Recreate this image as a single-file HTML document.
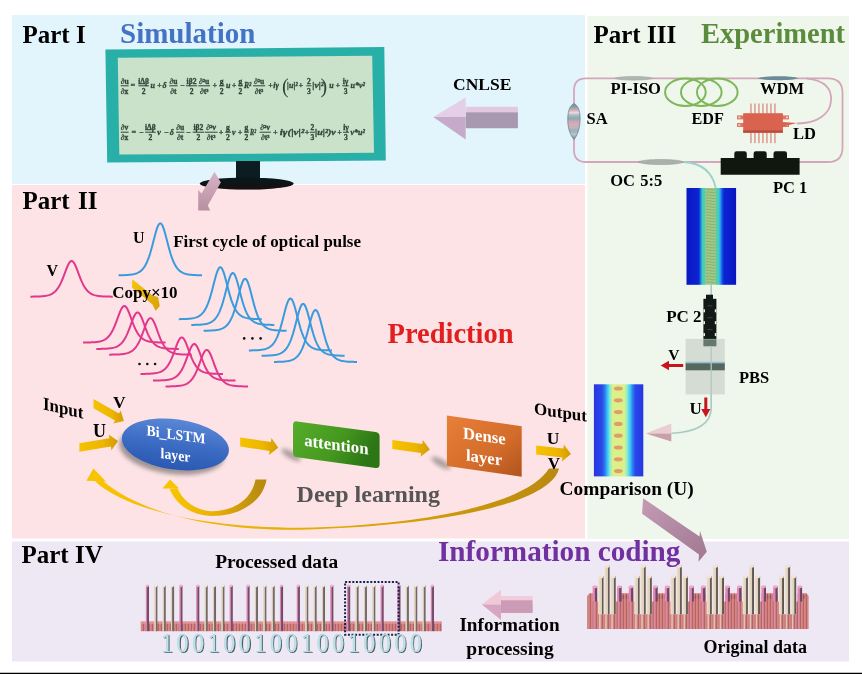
<!DOCTYPE html>
<html><head><meta charset="utf-8">
<style>
html,body{margin:0;padding:0;background:#fff;width:862px;height:674px;overflow:hidden}
svg{display:block;will-change:transform}
text{font-family:"Liberation Serif",serif;font-weight:bold}
</style></head>
<body>
<svg width="862" height="674" viewBox="0 0 862 674">
<defs>
<linearGradient id="gArrowL" x1="0" y1="0" x2="0" y2="1">
 <stop offset="0" stop-color="#E6CCE6"/><stop offset="0.5" stop-color="#E0C6E2"/><stop offset="0.5" stop-color="#C8ACCA"/><stop offset="1" stop-color="#BFA2C2"/>
</linearGradient>
<linearGradient id="gPinkDown" x1="0" y1="0" x2="0" y2="1">
 <stop offset="0" stop-color="#D8B4C8"/><stop offset="1" stop-color="#B8909F"/>
</linearGradient>
</defs>
<rect x="12" y="15" width="573" height="169" fill="#E3F5FC"/>
<rect x="12" y="185" width="573" height="353.5" fill="#FDE3E5"/>
<rect x="587.5" y="16" width="261.5" height="523" fill="#EFF6EC"/>
<rect x="12" y="541.5" width="837" height="120" fill="#EEE8F5"/>
<rect x="0" y="672.75" width="862" height="1.25" fill="#000"/>
<text x="22.5" y="43" font-size="25" fill="#000" >Part I</text>
<text x="120" y="43.3" font-size="29" fill="#4472C4" >Simulation</text>
<text x="22.5" y="208.7" font-size="25" fill="#000" word-spacing="2">Part II</text>
<text x="593.5" y="42.5" font-size="25" fill="#000" >Part III</text>
<text x="701" y="43" font-size="28.5" fill="#5B8C3E" >Experiment</text>
<text x="21.5" y="562.5" font-size="25" fill="#000" >Part IV</text>
<polygon points="105.4,49.5 384.3,47.1 385.8,160.5 107.2,162.6" fill="#28AFA8"/>
<polygon points="117.8,57.8 372.2,55.7 374,152.8 119.3,154.6" fill="#C9E2C9"/>
<rect x="236" y="161" width="24" height="21" fill="#0B1D20"/>
<ellipse cx="246.7" cy="183.6" rx="47" ry="6" fill="#0A171A"/>
<path d="M199.8,183.6 A47,6 0 0 0 293.7,183.6 Z" fill="#1A0C10" opacity="0.6"/>
<text x="124.65" y="83.89999999999999" font-size="7.6" fill="#33433A" stroke="#33433A" stroke-width="0.3" text-anchor="middle">&#8706;u</text>
<rect x="120.7" y="85.3" width="7.8999999999999915" height="1" fill="#33433A"/>
<text x="124.65" y="93.5" font-size="7.6" fill="#33433A" stroke="#33433A" stroke-width="0.3" text-anchor="middle">&#8706;x</text>
<text x="130.6" y="88.39999999999999" font-size="8" fill="#33433A" stroke="#33433A" stroke-width="0.3" text-anchor="start" font-style="italic">=</text>
<text x="143.65" y="83.89999999999999" font-size="7.6" fill="#33433A" stroke="#33433A" stroke-width="0.3" text-anchor="middle">i&#916;&#946;</text>
<rect x="138.4" y="85.3" width="10.5" height="1" fill="#33433A"/>
<text x="143.65" y="93.5" font-size="7.6" fill="#33433A" stroke="#33433A" stroke-width="0.3" text-anchor="middle">2</text>
<text x="150.4" y="88.39999999999999" font-size="8" fill="#33433A" stroke="#33433A" stroke-width="0.3" text-anchor="start" font-style="italic">u</text>
<text x="157" y="88.39999999999999" font-size="8" fill="#33433A" stroke="#33433A" stroke-width="0.3" text-anchor="start" font-style="italic">+</text>
<text x="162.5" y="88.39999999999999" font-size="8" fill="#33433A" stroke="#33433A" stroke-width="0.3" text-anchor="start" font-style="italic">&#948;</text>
<text x="173.45" y="83.89999999999999" font-size="7.6" fill="#33433A" stroke="#33433A" stroke-width="0.3" text-anchor="middle">&#8706;u</text>
<rect x="169.3" y="85.3" width="8.299999999999983" height="1" fill="#33433A"/>
<text x="173.45" y="93.5" font-size="7.6" fill="#33433A" stroke="#33433A" stroke-width="0.3" text-anchor="middle">&#8706;t</text>
<text x="179.8" y="88.39999999999999" font-size="8" fill="#33433A" stroke="#33433A" stroke-width="0.3" text-anchor="start" font-style="italic">&#8722;</text>
<text x="191.55" y="83.89999999999999" font-size="7.6" fill="#33433A" stroke="#33433A" stroke-width="0.3" text-anchor="middle">i&#946;2</text>
<rect x="185.9" y="85.3" width="11.299999999999983" height="1" fill="#33433A"/>
<text x="191.55" y="93.5" font-size="7.6" fill="#33433A" stroke="#33433A" stroke-width="0.3" text-anchor="middle">2</text>
<text x="204.2" y="83.89999999999999" font-size="7.6" fill="#33433A" stroke="#33433A" stroke-width="0.3" text-anchor="middle">&#8706;&#178;u</text>
<rect x="198.4" y="85.3" width="11.599999999999994" height="1" fill="#33433A"/>
<text x="204.2" y="93.5" font-size="7.6" fill="#33433A" stroke="#33433A" stroke-width="0.3" text-anchor="middle">&#8706;t&#179;</text>
<text x="212.5" y="88.39999999999999" font-size="8" fill="#33433A" stroke="#33433A" stroke-width="0.3" text-anchor="start" font-style="italic">+</text>
<text x="221.7" y="83.89999999999999" font-size="7.6" fill="#33433A" stroke="#33433A" stroke-width="0.3" text-anchor="middle">g</text>
<rect x="219" y="85.3" width="5.400000000000006" height="1" fill="#33433A"/>
<text x="221.7" y="93.5" font-size="7.6" fill="#33433A" stroke="#33433A" stroke-width="0.3" text-anchor="middle">2</text>
<text x="225.9" y="88.39999999999999" font-size="8" fill="#33433A" stroke="#33433A" stroke-width="0.3" text-anchor="start" font-style="italic">u</text>
<text x="231.8" y="88.39999999999999" font-size="8" fill="#33433A" stroke="#33433A" stroke-width="0.3" text-anchor="start" font-style="italic">+</text>
<text x="240.5" y="83.89999999999999" font-size="7.6" fill="#33433A" stroke="#33433A" stroke-width="0.3" text-anchor="middle">g</text>
<rect x="238" y="85.3" width="5" height="1" fill="#33433A"/>
<text x="240.5" y="93.5" font-size="7.6" fill="#33433A" stroke="#33433A" stroke-width="0.3" text-anchor="middle">2</text>
<text x="244" y="88.39999999999999" font-size="8" fill="#33433A" stroke="#33433A" stroke-width="0.3" text-anchor="start" font-style="italic" textLength="7.4" lengthAdjust="spacingAndGlyphs">R&#178;</text>
<text x="259.1" y="83.89999999999999" font-size="7.6" fill="#33433A" stroke="#33433A" stroke-width="0.3" text-anchor="middle">&#8706;&#178;u</text>
<rect x="253" y="85.3" width="12.199999999999989" height="1" fill="#33433A"/>
<text x="259.1" y="93.5" font-size="7.6" fill="#33433A" stroke="#33433A" stroke-width="0.3" text-anchor="middle">&#8706;t&#179;</text>
<text x="268.2" y="88.39999999999999" font-size="8" fill="#33433A" stroke="#33433A" stroke-width="0.3" text-anchor="start" font-style="italic">+</text>
<text x="273.3" y="88.39999999999999" font-size="8" fill="#33433A" stroke="#33433A" stroke-width="0.3" text-anchor="start" font-style="italic">i&#947;</text>
<text x="298.4" y="88.39999999999999" font-size="8" fill="#33433A" stroke="#33433A" stroke-width="0.3" text-anchor="start" font-style="italic">+</text>
<text x="308.9" y="83.89999999999999" font-size="7.6" fill="#33433A" stroke="#33433A" stroke-width="0.3" text-anchor="middle">2</text>
<rect x="306.3" y="85.3" width="5.199999999999989" height="1" fill="#33433A"/>
<text x="308.9" y="93.5" font-size="7.6" fill="#33433A" stroke="#33433A" stroke-width="0.3" text-anchor="middle">3</text>
<text x="312.3" y="88.39999999999999" font-size="8" fill="#33433A" stroke="#33433A" stroke-width="0.3" text-anchor="start" font-style="italic" textLength="11.3" lengthAdjust="spacingAndGlyphs">|v|&#178;</text>
<text x="329.3" y="88.39999999999999" font-size="8" fill="#33433A" stroke="#33433A" stroke-width="0.3" text-anchor="start" font-style="italic">u</text>
<text x="335.6" y="88.39999999999999" font-size="8" fill="#33433A" stroke="#33433A" stroke-width="0.3" text-anchor="start" font-style="italic">+</text>
<text x="345.55" y="83.89999999999999" font-size="7.6" fill="#33433A" stroke="#33433A" stroke-width="0.3" text-anchor="middle">i&#947;</text>
<rect x="342.3" y="85.3" width="6.5" height="1" fill="#33433A"/>
<text x="345.55" y="93.5" font-size="7.6" fill="#33433A" stroke="#33433A" stroke-width="0.3" text-anchor="middle">3</text>
<text x="350.4" y="88.39999999999999" font-size="8" fill="#33433A" stroke="#33433A" stroke-width="0.3" text-anchor="start" font-style="italic" textLength="14.6" lengthAdjust="spacingAndGlyphs">u*v&#178;</text>
<text x="282" y="93" font-size="20" font-weight="normal" fill="#33433A" style="font-weight:normal">(</text>
<text x="320.5" y="93" font-size="20" fill="#33433A" style="font-weight:normal">)</text>
<text x="287.1" y="88.39999999999999" font-size="8" fill="#33433A" stroke="#33433A" stroke-width="0.3" text-anchor="start" font-style="italic" textLength="10.6" lengthAdjust="spacingAndGlyphs">|u|&#178;</text>
<text x="124.65" y="130.29999999999998" font-size="7.6" fill="#33433A" stroke="#33433A" stroke-width="0.3" text-anchor="middle">&#8706;v</text>
<rect x="120.7" y="131.7" width="7.8999999999999915" height="1" fill="#33433A"/>
<text x="124.65" y="139.89999999999998" font-size="7.6" fill="#33433A" stroke="#33433A" stroke-width="0.3" text-anchor="middle">&#8706;x</text>
<text x="131.4" y="134.79999999999998" font-size="8" fill="#33433A" stroke="#33433A" stroke-width="0.3" text-anchor="start" font-style="italic">=</text>
<text x="138.8" y="134.79999999999998" font-size="8" fill="#33433A" stroke="#33433A" stroke-width="0.3" text-anchor="start" font-style="italic">&#8722;</text>
<text x="150.45" y="130.29999999999998" font-size="7.6" fill="#33433A" stroke="#33433A" stroke-width="0.3" text-anchor="middle">i&#916;&#946;</text>
<rect x="145.2" y="131.7" width="10.5" height="1" fill="#33433A"/>
<text x="150.45" y="139.89999999999998" font-size="7.6" fill="#33433A" stroke="#33433A" stroke-width="0.3" text-anchor="middle">2</text>
<text x="157.2" y="134.79999999999998" font-size="8" fill="#33433A" stroke="#33433A" stroke-width="0.3" text-anchor="start" font-style="italic">v</text>
<text x="163.8" y="134.79999999999998" font-size="8" fill="#33433A" stroke="#33433A" stroke-width="0.3" text-anchor="start" font-style="italic">&#8722;</text>
<text x="169.8" y="134.79999999999998" font-size="8" fill="#33433A" stroke="#33433A" stroke-width="0.3" text-anchor="start" font-style="italic">&#948;</text>
<text x="180.2" y="130.29999999999998" font-size="7.6" fill="#33433A" stroke="#33433A" stroke-width="0.3" text-anchor="middle">&#8706;u</text>
<rect x="176" y="131.7" width="8.400000000000006" height="1" fill="#33433A"/>
<text x="180.2" y="139.89999999999998" font-size="7.6" fill="#33433A" stroke="#33433A" stroke-width="0.3" text-anchor="middle">&#8706;t</text>
<text x="185.7" y="134.79999999999998" font-size="8" fill="#33433A" stroke="#33433A" stroke-width="0.3" text-anchor="start" font-style="italic">&#8722;</text>
<text x="198.35" y="130.29999999999998" font-size="7.6" fill="#33433A" stroke="#33433A" stroke-width="0.3" text-anchor="middle">i&#946;2</text>
<rect x="192.7" y="131.7" width="11.300000000000011" height="1" fill="#33433A"/>
<text x="198.35" y="139.89999999999998" font-size="7.6" fill="#33433A" stroke="#33433A" stroke-width="0.3" text-anchor="middle">2</text>
<text x="211.14999999999998" y="130.29999999999998" font-size="7.6" fill="#33433A" stroke="#33433A" stroke-width="0.3" text-anchor="middle">&#8706;&#178;v</text>
<rect x="204.7" y="131.7" width="12.900000000000006" height="1" fill="#33433A"/>
<text x="211.14999999999998" y="139.89999999999998" font-size="7.6" fill="#33433A" stroke="#33433A" stroke-width="0.3" text-anchor="middle">&#8706;t&#179;</text>
<text x="218.8" y="134.79999999999998" font-size="8" fill="#33433A" stroke="#33433A" stroke-width="0.3" text-anchor="start" font-style="italic">+</text>
<text x="228.0" y="130.29999999999998" font-size="7.6" fill="#33433A" stroke="#33433A" stroke-width="0.3" text-anchor="middle">g</text>
<rect x="225" y="131.7" width="6" height="1" fill="#33433A"/>
<text x="228.0" y="139.89999999999998" font-size="7.6" fill="#33433A" stroke="#33433A" stroke-width="0.3" text-anchor="middle">2</text>
<text x="232" y="134.79999999999998" font-size="8" fill="#33433A" stroke="#33433A" stroke-width="0.3" text-anchor="start" font-style="italic">v</text>
<text x="237.8" y="134.79999999999998" font-size="8" fill="#33433A" stroke="#33433A" stroke-width="0.3" text-anchor="start" font-style="italic">+</text>
<text x="246.5" y="130.29999999999998" font-size="7.6" fill="#33433A" stroke="#33433A" stroke-width="0.3" text-anchor="middle">g</text>
<rect x="244" y="131.7" width="5" height="1" fill="#33433A"/>
<text x="246.5" y="139.89999999999998" font-size="7.6" fill="#33433A" stroke="#33433A" stroke-width="0.3" text-anchor="middle">2</text>
<text x="250" y="134.79999999999998" font-size="8" fill="#33433A" stroke="#33433A" stroke-width="0.3" text-anchor="start" font-style="italic" textLength="6.0" lengthAdjust="spacingAndGlyphs">R&#178;</text>
<text x="265.2" y="130.29999999999998" font-size="7.6" fill="#33433A" stroke="#33433A" stroke-width="0.3" text-anchor="middle">&#8706;&#178;v</text>
<rect x="259.5" y="131.7" width="11.399999999999977" height="1" fill="#33433A"/>
<text x="265.2" y="139.89999999999998" font-size="7.6" fill="#33433A" stroke="#33433A" stroke-width="0.3" text-anchor="middle">&#8706;t&#179;</text>
<text x="273.1" y="134.79999999999998" font-size="8" fill="#33433A" stroke="#33433A" stroke-width="0.3" text-anchor="start" font-style="italic">+</text>
<text x="279.8" y="134.79999999999998" font-size="8" fill="#33433A" stroke="#33433A" stroke-width="0.3" text-anchor="start" font-style="italic" textLength="24.4" lengthAdjust="spacingAndGlyphs">i&#947;(|v|&#178;</text>
<text x="304.8" y="134.79999999999998" font-size="8" fill="#33433A" stroke="#33433A" stroke-width="0.3" text-anchor="start" font-style="italic">+</text>
<text x="312.4" y="130.29999999999998" font-size="7.6" fill="#33433A" stroke="#33433A" stroke-width="0.3" text-anchor="middle">2</text>
<rect x="309.8" y="131.7" width="5.199999999999989" height="1" fill="#33433A"/>
<text x="312.4" y="139.89999999999998" font-size="7.6" fill="#33433A" stroke="#33433A" stroke-width="0.3" text-anchor="middle">3</text>
<text x="315" y="134.79999999999998" font-size="8" fill="#33433A" stroke="#33433A" stroke-width="0.3" text-anchor="start" font-style="italic" textLength="20.8" lengthAdjust="spacingAndGlyphs">|u|&#178;)v</text>
<text x="337.3" y="134.79999999999998" font-size="8" fill="#33433A" stroke="#33433A" stroke-width="0.3" text-anchor="start" font-style="italic">+</text>
<text x="346.0" y="130.29999999999998" font-size="7.6" fill="#33433A" stroke="#33433A" stroke-width="0.3" text-anchor="middle">i&#947;</text>
<rect x="343" y="131.7" width="6" height="1" fill="#33433A"/>
<text x="346.0" y="139.89999999999998" font-size="7.6" fill="#33433A" stroke="#33433A" stroke-width="0.3" text-anchor="middle">3</text>
<text x="350.4" y="134.79999999999998" font-size="8" fill="#33433A" stroke="#33433A" stroke-width="0.3" text-anchor="start" font-style="italic" textLength="14.6" lengthAdjust="spacingAndGlyphs">v*u&#178;</text>
<polygon points="214.5,171.7 220.8,182.4 207.8,205.4 210.2,210.4 198.2,210.4 198.2,189.9 201.5,193.6" fill="url(#gPinkDown)"/>
<text x="453" y="89.7" font-size="17.5" fill="#000" >CNLSE</text>
<polygon points="465.7,106.7 517.9,106.7 517.9,112.2 465.7,112.2" fill="#E2C8E0"/>
<polygon points="465.7,112.2 517.9,112.2 517.9,128.2 465.7,128.2" fill="#A898B0"/>
<polygon points="433.2,117.1 465.7,97.6 465.7,117.1" fill="#E4CEE8"/>
<polygon points="433.2,117.1 465.7,117.1 465.7,139.4" fill="#C6AACA"/>
<path d="M586,78.3 L828,78.3 Q842.5,78.3 842.5,92.8 L842.5,147.5 Q842.5,162 828,162 L586,162 Q574,162 574,150 L574,90.3 Q574,78.3 586,78.3 Z" fill="none" stroke="#D4A6BC" stroke-width="1.8"/>
<path d="M806,78.3 C826,80 832,90 831,101 C830,114 818,123 797,123.5" fill="none" stroke="#D4A6BC" stroke-width="1.8"/>
<defs><linearGradient id="gSA" x1="0" y1="0" x2="0" y2="1">
<stop offset="0" stop-color="#6E8C98"/><stop offset="0.1" stop-color="#8AA0A8"/><stop offset="0.18" stop-color="#D4AAB6"/><stop offset="0.26" stop-color="#EADCE0"/><stop offset="0.32" stop-color="#A8BCC4"/>
<stop offset="0.42" stop-color="#90A8B2"/><stop offset="0.5" stop-color="#C8A8B4"/><stop offset="0.58" stop-color="#D8AAB8"/><stop offset="0.66" stop-color="#C0B4BC"/><stop offset="0.76" stop-color="#98B0BA"/><stop offset="0.86" stop-color="#B8C4CA"/><stop offset="1" stop-color="#6A8692"/>
</linearGradient></defs>
<path d="M574,103.5 C579,106 580.5,113 580,121 C579.5,130 577,136 574,139.5 C571,136 568,130 567.8,121 C567.6,113 569,106 574,103.5 Z" fill="url(#gSA)" stroke="#6E8490" stroke-width="0.8"/>
<path d="M614.7,78.3 C620,75.8 647,75.8 652.8,78.3 C647,80.8 620,80.8 614.7,78.3 Z" fill="#AEB6B0" stroke="#9AA49E" stroke-width="0.5"/>
<path d="M757.8,78.2 C763,75.6 793,75.6 798.2,78.2 C793,80.8 763,80.8 757.8,78.2 Z" fill="#6C8A98"/>
<path d="M638,162 C643,158.6 679,158.6 683.5,162 C679,165.4 643,165.4 638,162 Z" fill="#A8B2AA" stroke="#8E9A92" stroke-width="0.5"/>
<path d="M683.5,162 C700,163 712,170 715.7,188" fill="none" stroke="#9BD3C8" stroke-width="1.8"/>
<ellipse cx="685.4" cy="92.2" rx="20.3" ry="13.7" fill="none" stroke="#7DB757" stroke-width="2"/>
<ellipse cx="701.3" cy="92.2" rx="20.3" ry="13.7" fill="none" stroke="#7DB757" stroke-width="2"/>
<ellipse cx="717.3" cy="92.2" rx="20.3" ry="13.7" fill="none" stroke="#7DB757" stroke-width="2"/>
<rect x="750" y="103.5" width="25.5" height="40" fill="none"/>
<rect x="750.3" y="103.5" width="1.3" height="10" fill="#D98C7E"/>
<rect x="750.3" y="132.5" width="1.3" height="10.7" fill="#D98C7E"/>
<rect x="754.3" y="103.5" width="1.3" height="10" fill="#D98C7E"/>
<rect x="754.3" y="132.5" width="1.3" height="10.7" fill="#D98C7E"/>
<rect x="758.3" y="103.5" width="1.3" height="10" fill="#D98C7E"/>
<rect x="758.3" y="132.5" width="1.3" height="10.7" fill="#D98C7E"/>
<rect x="762.3" y="103.5" width="1.3" height="10" fill="#D98C7E"/>
<rect x="762.3" y="132.5" width="1.3" height="10.7" fill="#D98C7E"/>
<rect x="766.3" y="103.5" width="1.3" height="10" fill="#D98C7E"/>
<rect x="766.3" y="132.5" width="1.3" height="10.7" fill="#D98C7E"/>
<rect x="770.3" y="103.5" width="1.3" height="10" fill="#D98C7E"/>
<rect x="770.3" y="132.5" width="1.3" height="10.7" fill="#D98C7E"/>
<rect x="774.3" y="103.5" width="1.3" height="10" fill="#D98C7E"/>
<rect x="774.3" y="132.5" width="1.3" height="10.7" fill="#D98C7E"/>
<rect x="737" y="115.4" width="7" height="4" fill="#DC7868"/><rect x="738.3" y="116.60000000000001" width="2" height="1.6" fill="#F2D8D0"/>
<rect x="782" y="115.4" width="7" height="4" fill="#DC7868"/><rect x="786" y="116.60000000000001" width="2" height="1.6" fill="#F2D8D0"/>
<rect x="737" y="123" width="7" height="4" fill="#DC7868"/><rect x="738.3" y="124.2" width="2" height="1.6" fill="#F2D8D0"/>
<rect x="782" y="123" width="7" height="4" fill="#DC7868"/><rect x="786" y="124.2" width="2" height="1.6" fill="#F2D8D0"/>
<rect x="743.2" y="113.2" width="39.7" height="19.5" fill="#D9634F"/>
<rect x="743.2" y="130.5" width="39.7" height="2.2" fill="#B84A3C"/>
<path d="M782.9,122 L797,123 L782.9,126.5 Z" fill="#D9634F"/>
<path d="M720.7,158 L734.3,158 L734.3,153.6 Q734.3,151.3 736.6,151.3 L744.5,151.3 Q746.8,151.3 746.8,153.6 L746.8,158 L753.6,158 L753.6,153.6 Q753.6,151.3 755.9,151.3 L764.4,151.3 Q766.7,151.3 766.7,153.6 L766.7,158 L773.5,158 L773.5,153.6 Q773.5,151.3 775.8,151.3 L784.7,151.3 Q787,151.3 787,153.6 L787,158 L799.6,158 L799.6,174.7 L720.7,174.7 Z" fill="#0F170F"/>
<text x="610.5" y="94" font-size="16.5" fill="#000" >PI-ISO</text>
<text x="586.5" y="124" font-size="16.5" fill="#000" >SA</text>
<text x="691.5" y="123.6" font-size="16.2" fill="#000" >EDF</text>
<text x="760" y="93.7" font-size="16.5" fill="#000" >WDM</text>
<text x="793" y="139.2" font-size="16.5" fill="#000" >LD</text>
<text x="610.2" y="186.2" font-size="16.5" fill="#000" word-spacing="1.3">OC 5:5</text>
<text x="773" y="193" font-size="16.5" fill="#000" >PC 1</text>
<polyline points="118.60,275.24 119.53,275.23 120.45,275.22 121.38,275.20 122.31,275.18 123.23,275.16 124.16,275.13 125.09,275.09 126.01,275.05 126.94,275.00 127.87,274.94 128.79,274.87 129.72,274.78 130.65,274.68 131.57,274.56 132.50,274.41 133.43,274.24 134.35,274.03 135.28,273.78 136.21,273.49 137.13,273.13 138.06,272.71 138.99,272.21 139.91,271.62 140.84,270.91 141.77,270.09 142.69,269.11 143.62,267.97 144.55,266.63 145.47,265.08 146.40,263.30 147.33,261.25 148.25,258.93 149.18,256.33 150.11,253.44 151.03,250.29 151.96,246.91 152.89,243.36 153.81,239.73 154.74,236.14 155.67,232.71 156.59,229.60 157.52,226.98 158.45,224.98 159.37,223.73 160.30,223.30 161.23,223.73 162.15,224.98 163.08,226.98 164.01,229.60 164.93,232.71 165.86,236.14 166.79,239.73 167.71,243.36 168.64,246.91 169.57,250.29 170.49,253.44 171.42,256.33 172.35,258.93 173.27,261.25 174.20,263.30 175.13,265.08 176.05,266.63 176.98,267.97 177.91,269.11 178.83,270.09 179.76,270.91 180.69,271.62 181.61,272.21 182.54,272.71 183.47,273.13 184.39,273.49 185.32,273.78 186.25,274.03 187.17,274.24 188.10,274.41 189.03,274.56 189.95,274.68 190.88,274.78 191.81,274.87 192.73,274.94 193.66,275.00 194.59,275.05 195.51,275.09 196.44,275.13 197.37,275.16 198.29,275.18 199.22,275.20 200.15,275.22 201.07,275.23 202.00,275.24" fill="none" stroke="#3A9BDC" stroke-width="2.0" stroke-linejoin="round"/>
<polyline points="30.40,296.66 31.32,296.65 32.23,296.64 33.15,296.62 34.06,296.61 34.98,296.59 35.89,296.57 36.81,296.54 37.72,296.51 38.64,296.48 39.56,296.43 40.47,296.38 41.39,296.32 42.30,296.25 43.22,296.16 44.13,296.05 45.05,295.93 45.96,295.78 46.88,295.60 47.80,295.38 48.71,295.13 49.63,294.83 50.54,294.47 51.46,294.05 52.37,293.55 53.29,292.97 54.20,292.28 55.12,291.48 56.04,290.55 56.95,289.46 57.87,288.22 58.78,286.80 59.70,285.20 60.61,283.40 61.53,281.42 62.44,279.26 63.36,276.95 64.28,274.53 65.19,272.07 66.11,269.64 67.02,267.32 67.94,265.23 68.85,263.47 69.77,262.13 70.68,261.29 71.60,261.00 72.52,261.29 73.43,262.13 74.35,263.47 75.26,265.23 76.18,267.32 77.09,269.64 78.01,272.07 78.92,274.53 79.84,276.95 80.76,279.26 81.67,281.42 82.59,283.40 83.50,285.20 84.42,286.80 85.33,288.22 86.25,289.46 87.16,290.55 88.08,291.48 89.00,292.28 89.91,292.97 90.83,293.55 91.74,294.05 92.66,294.47 93.57,294.83 94.49,295.13 95.40,295.38 96.32,295.60 97.24,295.78 98.15,295.93 99.07,296.05 99.98,296.16 100.90,296.25 101.81,296.32 102.73,296.38 103.64,296.43 104.56,296.48 105.48,296.51 106.39,296.54 107.31,296.57 108.22,296.59 109.14,296.61 110.05,296.62 110.97,296.64 111.88,296.65 112.80,296.66" fill="none" stroke="#E2388C" stroke-width="2.0" stroke-linejoin="round"/>
<polyline points="83.10,342.56 84.02,342.55 84.93,342.54 85.85,342.52 86.77,342.51 87.68,342.49 88.60,342.47 89.52,342.44 90.43,342.41 91.35,342.37 92.27,342.33 93.18,342.28 94.10,342.21 95.02,342.14 95.93,342.05 96.85,341.94 97.77,341.81 98.68,341.66 99.60,341.47 100.52,341.26 101.43,341.00 102.35,340.69 103.27,340.33 104.18,339.90 105.10,339.39 106.02,338.79 106.93,338.09 107.85,337.27 108.77,336.31 109.68,335.20 110.60,333.93 111.52,332.48 112.43,330.83 113.35,328.99 114.27,326.96 115.18,324.75 116.10,322.38 117.02,319.90 117.93,317.37 118.85,314.87 119.77,312.50 120.68,310.35 121.60,308.54 122.52,307.16 123.43,306.29 124.35,306.00 125.27,306.29 126.18,307.16 127.10,308.54 128.02,310.35 128.93,312.50 129.85,314.87 130.77,317.37 131.68,319.90 132.60,322.38 133.52,324.75 134.43,326.96 135.35,328.99 136.27,330.83 137.18,332.48 138.10,333.93 139.02,335.20 139.93,336.31 140.85,337.27 141.77,338.09 142.68,338.79 143.60,339.39 144.52,339.90 145.43,340.33 146.35,340.69 147.27,341.00 148.18,341.26 149.10,341.47 150.02,341.66 150.93,341.81 151.85,341.94 152.77,342.05 153.68,342.14 154.60,342.21 155.52,342.28 156.43,342.33 157.35,342.37 158.27,342.41 159.18,342.44 160.10,342.47 161.02,342.49 161.93,342.51 162.85,342.52 163.77,342.54 164.68,342.55 165.60,342.56" fill="none" stroke="#E2388C" stroke-width="2.0" stroke-linejoin="round"/>
<polyline points="96.30,348.96 97.22,348.95 98.13,348.94 99.05,348.92 99.97,348.91 100.88,348.89 101.80,348.87 102.72,348.84 103.63,348.81 104.55,348.77 105.47,348.73 106.38,348.68 107.30,348.61 108.22,348.54 109.13,348.45 110.05,348.34 110.97,348.21 111.88,348.06 112.80,347.87 113.72,347.66 114.63,347.40 115.55,347.09 116.47,346.73 117.38,346.30 118.30,345.79 119.22,345.19 120.13,344.49 121.05,343.67 121.97,342.71 122.88,341.60 123.80,340.33 124.72,338.88 125.63,337.23 126.55,335.39 127.47,333.36 128.38,331.15 129.30,328.78 130.22,326.30 131.13,323.77 132.05,321.27 132.97,318.90 133.88,316.75 134.80,314.94 135.72,313.56 136.63,312.69 137.55,312.40 138.47,312.69 139.38,313.56 140.30,314.94 141.22,316.75 142.13,318.90 143.05,321.27 143.97,323.77 144.88,326.30 145.80,328.78 146.72,331.15 147.63,333.36 148.55,335.39 149.47,337.23 150.38,338.88 151.30,340.33 152.22,341.60 153.13,342.71 154.05,343.67 154.97,344.49 155.88,345.19 156.80,345.79 157.72,346.30 158.63,346.73 159.55,347.09 160.47,347.40 161.38,347.66 162.30,347.87 163.22,348.06 164.13,348.21 165.05,348.34 165.97,348.45 166.88,348.54 167.80,348.61 168.72,348.68 169.63,348.73 170.55,348.77 171.47,348.81 172.38,348.84 173.30,348.87 174.22,348.89 175.13,348.91 176.05,348.92 176.97,348.94 177.88,348.95 178.80,348.96" fill="none" stroke="#E2388C" stroke-width="2.0" stroke-linejoin="round"/>
<polyline points="109.20,354.66 110.12,354.65 111.03,354.64 111.95,354.62 112.87,354.61 113.78,354.59 114.70,354.57 115.62,354.54 116.53,354.51 117.45,354.47 118.37,354.43 119.28,354.38 120.20,354.31 121.12,354.24 122.03,354.15 122.95,354.04 123.87,353.91 124.78,353.76 125.70,353.57 126.62,353.36 127.53,353.10 128.45,352.79 129.37,352.43 130.28,352.00 131.20,351.49 132.12,350.89 133.03,350.19 133.95,349.37 134.87,348.41 135.78,347.30 136.70,346.03 137.62,344.58 138.53,342.93 139.45,341.09 140.37,339.06 141.28,336.85 142.20,334.48 143.12,332.00 144.03,329.47 144.95,326.97 145.87,324.60 146.78,322.45 147.70,320.64 148.62,319.26 149.53,318.39 150.45,318.10 151.37,318.39 152.28,319.26 153.20,320.64 154.12,322.45 155.03,324.60 155.95,326.97 156.87,329.47 157.78,332.00 158.70,334.48 159.62,336.85 160.53,339.06 161.45,341.09 162.37,342.93 163.28,344.58 164.20,346.03 165.12,347.30 166.03,348.41 166.95,349.37 167.87,350.19 168.78,350.89 169.70,351.49 170.62,352.00 171.53,352.43 172.45,352.79 173.37,353.10 174.28,353.36 175.20,353.57 176.12,353.76 177.03,353.91 177.95,354.04 178.87,354.15 179.78,354.24 180.70,354.31 181.62,354.38 182.53,354.43 183.45,354.47 184.37,354.51 185.28,354.54 186.20,354.57 187.12,354.59 188.03,354.61 188.95,354.62 189.87,354.64 190.78,354.65 191.70,354.66" fill="none" stroke="#E2388C" stroke-width="2.0" stroke-linejoin="round"/>
<polyline points="140.50,373.96 141.42,373.95 142.33,373.94 143.25,373.92 144.17,373.91 145.08,373.89 146.00,373.87 146.92,373.84 147.83,373.81 148.75,373.77 149.67,373.73 150.58,373.68 151.50,373.61 152.42,373.54 153.33,373.45 154.25,373.34 155.17,373.21 156.08,373.06 157.00,372.87 157.92,372.66 158.83,372.40 159.75,372.09 160.67,371.73 161.58,371.30 162.50,370.79 163.42,370.19 164.33,369.49 165.25,368.67 166.17,367.71 167.08,366.60 168.00,365.33 168.92,363.88 169.83,362.23 170.75,360.39 171.67,358.36 172.58,356.15 173.50,353.78 174.42,351.30 175.33,348.77 176.25,346.27 177.17,343.90 178.08,341.75 179.00,339.94 179.92,338.56 180.83,337.69 181.75,337.40 182.67,337.69 183.58,338.56 184.50,339.94 185.42,341.75 186.33,343.90 187.25,346.27 188.17,348.77 189.08,351.30 190.00,353.78 190.92,356.15 191.83,358.36 192.75,360.39 193.67,362.23 194.58,363.88 195.50,365.33 196.42,366.60 197.33,367.71 198.25,368.67 199.17,369.49 200.08,370.19 201.00,370.79 201.92,371.30 202.83,371.73 203.75,372.09 204.67,372.40 205.58,372.66 206.50,372.87 207.42,373.06 208.33,373.21 209.25,373.34 210.17,373.45 211.08,373.54 212.00,373.61 212.92,373.68 213.83,373.73 214.75,373.77 215.67,373.81 216.58,373.84 217.50,373.87 218.42,373.89 219.33,373.91 220.25,373.92 221.17,373.94 222.08,373.95 223.00,373.96" fill="none" stroke="#E2388C" stroke-width="2.0" stroke-linejoin="round"/>
<polyline points="153.00,380.56 153.92,380.55 154.83,380.54 155.75,380.52 156.67,380.51 157.58,380.49 158.50,380.47 159.42,380.44 160.33,380.41 161.25,380.37 162.17,380.33 163.08,380.28 164.00,380.21 164.92,380.14 165.83,380.05 166.75,379.94 167.67,379.81 168.58,379.66 169.50,379.47 170.42,379.26 171.33,379.00 172.25,378.69 173.17,378.33 174.08,377.90 175.00,377.39 175.92,376.79 176.83,376.09 177.75,375.27 178.67,374.31 179.58,373.20 180.50,371.93 181.42,370.48 182.33,368.83 183.25,366.99 184.17,364.96 185.08,362.75 186.00,360.38 186.92,357.90 187.83,355.37 188.75,352.87 189.67,350.50 190.58,348.35 191.50,346.54 192.42,345.16 193.33,344.29 194.25,344.00 195.17,344.29 196.08,345.16 197.00,346.54 197.92,348.35 198.83,350.50 199.75,352.87 200.67,355.37 201.58,357.90 202.50,360.38 203.42,362.75 204.33,364.96 205.25,366.99 206.17,368.83 207.08,370.48 208.00,371.93 208.92,373.20 209.83,374.31 210.75,375.27 211.67,376.09 212.58,376.79 213.50,377.39 214.42,377.90 215.33,378.33 216.25,378.69 217.17,379.00 218.08,379.26 219.00,379.47 219.92,379.66 220.83,379.81 221.75,379.94 222.67,380.05 223.58,380.14 224.50,380.21 225.42,380.28 226.33,380.33 227.25,380.37 228.17,380.41 229.08,380.44 230.00,380.47 230.92,380.49 231.83,380.51 232.75,380.52 233.67,380.54 234.58,380.55 235.50,380.56" fill="none" stroke="#E2388C" stroke-width="2.0" stroke-linejoin="round"/>
<polyline points="165.50,386.46 166.42,386.45 167.33,386.44 168.25,386.42 169.17,386.41 170.08,386.39 171.00,386.37 171.92,386.34 172.83,386.31 173.75,386.27 174.67,386.23 175.58,386.18 176.50,386.11 177.42,386.04 178.33,385.95 179.25,385.84 180.17,385.71 181.08,385.56 182.00,385.37 182.92,385.16 183.83,384.90 184.75,384.59 185.67,384.23 186.58,383.80 187.50,383.29 188.42,382.69 189.33,381.99 190.25,381.17 191.17,380.21 192.08,379.10 193.00,377.83 193.92,376.38 194.83,374.73 195.75,372.89 196.67,370.86 197.58,368.65 198.50,366.28 199.42,363.80 200.33,361.27 201.25,358.77 202.17,356.40 203.08,354.25 204.00,352.44 204.92,351.06 205.83,350.19 206.75,349.90 207.67,350.19 208.58,351.06 209.50,352.44 210.42,354.25 211.33,356.40 212.25,358.77 213.17,361.27 214.08,363.80 215.00,366.28 215.92,368.65 216.83,370.86 217.75,372.89 218.67,374.73 219.58,376.38 220.50,377.83 221.42,379.10 222.33,380.21 223.25,381.17 224.17,381.99 225.08,382.69 226.00,383.29 226.92,383.80 227.83,384.23 228.75,384.59 229.67,384.90 230.58,385.16 231.50,385.37 232.42,385.56 233.33,385.71 234.25,385.84 235.17,385.95 236.08,386.04 237.00,386.11 237.92,386.18 238.83,386.23 239.75,386.27 240.67,386.31 241.58,386.34 242.50,386.37 243.42,386.39 244.33,386.41 245.25,386.42 246.17,386.44 247.08,386.45 248.00,386.46" fill="none" stroke="#E2388C" stroke-width="2.0" stroke-linejoin="round"/>
<polyline points="178.80,319.14 179.72,319.13 180.64,319.11 181.57,319.10 182.49,319.07 183.41,319.05 184.33,319.02 185.26,318.98 186.18,318.94 187.10,318.89 188.02,318.83 188.94,318.76 189.87,318.67 190.79,318.57 191.71,318.44 192.63,318.29 193.56,318.11 194.48,317.90 195.40,317.65 196.32,317.34 197.24,316.99 198.17,316.56 199.09,316.05 200.01,315.45 200.93,314.74 201.86,313.90 202.78,312.91 203.70,311.76 204.62,310.41 205.54,308.86 206.47,307.06 207.39,305.00 208.31,302.68 209.23,300.07 210.16,297.18 211.08,294.03 212.00,290.66 212.92,287.12 213.84,283.51 214.77,279.93 215.69,276.53 216.61,273.45 217.53,270.85 218.46,268.86 219.38,267.62 220.30,267.20 221.22,267.62 222.14,268.86 223.07,270.85 223.99,273.45 224.91,276.53 225.83,279.93 226.76,283.51 227.68,287.12 228.60,290.66 229.52,294.03 230.44,297.18 231.37,300.07 232.29,302.68 233.21,305.00 234.13,307.06 235.06,308.86 235.98,310.41 236.90,311.76 237.82,312.91 238.74,313.90 239.67,314.74 240.59,315.45 241.51,316.05 242.43,316.56 243.36,316.99 244.28,317.34 245.20,317.65 246.12,317.90 247.04,318.11 247.97,318.29 248.89,318.44 249.81,318.57 250.73,318.67 251.66,318.76 252.58,318.83 253.50,318.89 254.42,318.94 255.34,318.98 256.27,319.02 257.19,319.05 258.11,319.07 259.03,319.10 259.96,319.11 260.88,319.13 261.80,319.14" fill="none" stroke="#3A9BDC" stroke-width="2.0" stroke-linejoin="round"/>
<polyline points="191.30,324.94 192.22,324.93 193.14,324.91 194.07,324.90 194.99,324.87 195.91,324.85 196.83,324.82 197.76,324.78 198.68,324.74 199.60,324.69 200.52,324.63 201.44,324.56 202.37,324.47 203.29,324.37 204.21,324.24 205.13,324.09 206.06,323.91 206.98,323.70 207.90,323.45 208.82,323.14 209.74,322.79 210.67,322.36 211.59,321.85 212.51,321.25 213.43,320.54 214.36,319.70 215.28,318.71 216.20,317.56 217.12,316.21 218.04,314.66 218.97,312.86 219.89,310.80 220.81,308.48 221.73,305.87 222.66,302.98 223.58,299.83 224.50,296.46 225.42,292.92 226.34,289.31 227.27,285.73 228.19,282.33 229.11,279.25 230.03,276.65 230.96,274.66 231.88,273.42 232.80,273.00 233.72,273.42 234.64,274.66 235.57,276.65 236.49,279.25 237.41,282.33 238.33,285.73 239.26,289.31 240.18,292.92 241.10,296.46 242.02,299.83 242.94,302.98 243.87,305.87 244.79,308.48 245.71,310.80 246.63,312.86 247.56,314.66 248.48,316.21 249.40,317.56 250.32,318.71 251.24,319.70 252.17,320.54 253.09,321.25 254.01,321.85 254.93,322.36 255.86,322.79 256.78,323.14 257.70,323.45 258.62,323.70 259.54,323.91 260.47,324.09 261.39,324.24 262.31,324.37 263.23,324.47 264.16,324.56 265.08,324.63 266.00,324.69 266.92,324.74 267.84,324.78 268.77,324.82 269.69,324.85 270.61,324.87 271.53,324.90 272.46,324.91 273.38,324.93 274.30,324.94" fill="none" stroke="#3A9BDC" stroke-width="2.0" stroke-linejoin="round"/>
<polyline points="203.60,330.74 204.52,330.73 205.44,330.71 206.37,330.70 207.29,330.67 208.21,330.65 209.13,330.62 210.06,330.58 210.98,330.54 211.90,330.49 212.82,330.43 213.74,330.36 214.67,330.27 215.59,330.17 216.51,330.04 217.43,329.89 218.36,329.71 219.28,329.50 220.20,329.25 221.12,328.94 222.04,328.59 222.97,328.16 223.89,327.65 224.81,327.05 225.73,326.34 226.66,325.50 227.58,324.51 228.50,323.36 229.42,322.01 230.34,320.46 231.27,318.66 232.19,316.60 233.11,314.28 234.03,311.67 234.96,308.78 235.88,305.63 236.80,302.26 237.72,298.72 238.64,295.11 239.57,291.53 240.49,288.13 241.41,285.05 242.33,282.45 243.26,280.46 244.18,279.22 245.10,278.80 246.02,279.22 246.94,280.46 247.87,282.45 248.79,285.05 249.71,288.13 250.63,291.53 251.56,295.11 252.48,298.72 253.40,302.26 254.32,305.63 255.24,308.78 256.17,311.67 257.09,314.28 258.01,316.60 258.93,318.66 259.86,320.46 260.78,322.01 261.70,323.36 262.62,324.51 263.54,325.50 264.47,326.34 265.39,327.05 266.31,327.65 267.23,328.16 268.16,328.59 269.08,328.94 270.00,329.25 270.92,329.50 271.84,329.71 272.77,329.89 273.69,330.04 274.61,330.17 275.53,330.27 276.46,330.36 277.38,330.43 278.30,330.49 279.22,330.54 280.14,330.58 281.07,330.62 281.99,330.65 282.91,330.67 283.83,330.70 284.76,330.71 285.68,330.73 286.60,330.74" fill="none" stroke="#3A9BDC" stroke-width="2.0" stroke-linejoin="round"/>
<polyline points="248.90,350.44 249.82,350.43 250.74,350.41 251.67,350.40 252.59,350.37 253.51,350.35 254.43,350.32 255.36,350.28 256.28,350.24 257.20,350.19 258.12,350.13 259.04,350.06 259.97,349.97 260.89,349.87 261.81,349.74 262.73,349.59 263.66,349.41 264.58,349.20 265.50,348.95 266.42,348.64 267.34,348.29 268.27,347.86 269.19,347.35 270.11,346.75 271.03,346.04 271.96,345.20 272.88,344.21 273.80,343.06 274.72,341.71 275.64,340.16 276.57,338.36 277.49,336.30 278.41,333.98 279.33,331.37 280.26,328.48 281.18,325.33 282.10,321.96 283.02,318.42 283.94,314.81 284.87,311.23 285.79,307.83 286.71,304.75 287.63,302.15 288.56,300.16 289.48,298.92 290.40,298.50 291.32,298.92 292.24,300.16 293.17,302.15 294.09,304.75 295.01,307.83 295.93,311.23 296.86,314.81 297.78,318.42 298.70,321.96 299.62,325.33 300.54,328.48 301.47,331.37 302.39,333.98 303.31,336.30 304.23,338.36 305.16,340.16 306.08,341.71 307.00,343.06 307.92,344.21 308.84,345.20 309.77,346.04 310.69,346.75 311.61,347.35 312.53,347.86 313.46,348.29 314.38,348.64 315.30,348.95 316.22,349.20 317.14,349.41 318.07,349.59 318.99,349.74 319.91,349.87 320.83,349.97 321.76,350.06 322.68,350.13 323.60,350.19 324.52,350.24 325.44,350.28 326.37,350.32 327.29,350.35 328.21,350.37 329.13,350.40 330.06,350.41 330.98,350.43 331.90,350.44" fill="none" stroke="#3A9BDC" stroke-width="2.0" stroke-linejoin="round"/>
<polyline points="261.60,355.74 262.52,355.73 263.44,355.71 264.37,355.70 265.29,355.67 266.21,355.65 267.13,355.62 268.06,355.58 268.98,355.54 269.90,355.49 270.82,355.43 271.74,355.36 272.67,355.27 273.59,355.17 274.51,355.04 275.43,354.89 276.36,354.71 277.28,354.50 278.20,354.25 279.12,353.94 280.04,353.59 280.97,353.16 281.89,352.65 282.81,352.05 283.73,351.34 284.66,350.50 285.58,349.51 286.50,348.36 287.42,347.01 288.34,345.46 289.27,343.66 290.19,341.60 291.11,339.28 292.03,336.67 292.96,333.78 293.88,330.63 294.80,327.26 295.72,323.72 296.64,320.11 297.57,316.53 298.49,313.13 299.41,310.05 300.33,307.45 301.26,305.46 302.18,304.22 303.10,303.80 304.02,304.22 304.94,305.46 305.87,307.45 306.79,310.05 307.71,313.13 308.63,316.53 309.56,320.11 310.48,323.72 311.40,327.26 312.32,330.63 313.24,333.78 314.17,336.67 315.09,339.28 316.01,341.60 316.93,343.66 317.86,345.46 318.78,347.01 319.70,348.36 320.62,349.51 321.54,350.50 322.47,351.34 323.39,352.05 324.31,352.65 325.23,353.16 326.16,353.59 327.08,353.94 328.00,354.25 328.92,354.50 329.84,354.71 330.77,354.89 331.69,355.04 332.61,355.17 333.53,355.27 334.46,355.36 335.38,355.43 336.30,355.49 337.22,355.54 338.14,355.58 339.07,355.62 339.99,355.65 340.91,355.67 341.83,355.70 342.76,355.71 343.68,355.73 344.60,355.74" fill="none" stroke="#3A9BDC" stroke-width="2.0" stroke-linejoin="round"/>
<polyline points="274.00,361.94 274.92,361.93 275.84,361.91 276.77,361.90 277.69,361.87 278.61,361.85 279.53,361.82 280.46,361.78 281.38,361.74 282.30,361.69 283.22,361.63 284.14,361.56 285.07,361.47 285.99,361.37 286.91,361.24 287.83,361.09 288.76,360.91 289.68,360.70 290.60,360.45 291.52,360.14 292.44,359.79 293.37,359.36 294.29,358.85 295.21,358.25 296.13,357.54 297.06,356.70 297.98,355.71 298.90,354.56 299.82,353.21 300.74,351.66 301.67,349.86 302.59,347.80 303.51,345.48 304.43,342.87 305.36,339.98 306.28,336.83 307.20,333.46 308.12,329.92 309.04,326.31 309.97,322.73 310.89,319.33 311.81,316.25 312.73,313.65 313.66,311.66 314.58,310.42 315.50,310.00 316.42,310.42 317.34,311.66 318.27,313.65 319.19,316.25 320.11,319.33 321.03,322.73 321.96,326.31 322.88,329.92 323.80,333.46 324.72,336.83 325.64,339.98 326.57,342.87 327.49,345.48 328.41,347.80 329.33,349.86 330.26,351.66 331.18,353.21 332.10,354.56 333.02,355.71 333.94,356.70 334.87,357.54 335.79,358.25 336.71,358.85 337.63,359.36 338.56,359.79 339.48,360.14 340.40,360.45 341.32,360.70 342.24,360.91 343.17,361.09 344.09,361.24 345.01,361.37 345.93,361.47 346.86,361.56 347.78,361.63 348.70,361.69 349.62,361.74 350.54,361.78 351.47,361.82 352.39,361.85 353.31,361.87 354.23,361.90 355.16,361.91 356.08,361.93 357.00,361.94" fill="none" stroke="#3A9BDC" stroke-width="2.0" stroke-linejoin="round"/>
<circle cx="139.5" cy="364" r="1.3" fill="#111"/>
<circle cx="147.3" cy="364" r="1.3" fill="#111"/>
<circle cx="155.1" cy="364" r="1.3" fill="#111"/>
<circle cx="244.2" cy="338.4" r="1.3" fill="#111"/>
<circle cx="252.4" cy="338.4" r="1.3" fill="#111"/>
<circle cx="260.6" cy="338.4" r="1.3" fill="#111"/>
<defs>
<linearGradient id="gY" x1="0" y1="0" x2="1" y2="1"><stop offset="0" stop-color="#F6C40C"/><stop offset="1" stop-color="#D7A008"/></linearGradient>
<linearGradient id="gYh" x1="0" y1="0" x2="1" y2="0"><stop offset="0" stop-color="#F6C200"/><stop offset="0.6" stop-color="#EDB600"/><stop offset="1" stop-color="#D29C06"/></linearGradient>
<linearGradient id="gYsmall" x1="0" y1="0" x2="1" y2="0"><stop offset="0" stop-color="#F8C600"/><stop offset="0.45" stop-color="#E9B106"/><stop offset="1" stop-color="#B48710"/></linearGradient>
<linearGradient id="gYbig" x1="0" y1="0" x2="1" y2="0"><stop offset="0" stop-color="#F8C400"/><stop offset="0.5" stop-color="#E2AA08"/><stop offset="1" stop-color="#B98A10"/></linearGradient>
<linearGradient id="gLSTM" x1="0" y1="0" x2="0" y2="1"><stop offset="0" stop-color="#5A88D6"/><stop offset="0.5" stop-color="#3D6CC4"/><stop offset="1" stop-color="#2A58B2"/></linearGradient>
<linearGradient id="gAtt" x1="0" y1="0" x2="1" y2="0.3"><stop offset="0" stop-color="#56AC2C"/><stop offset="0.6" stop-color="#45981E"/><stop offset="1" stop-color="#2C7616"/></linearGradient>
<linearGradient id="gDense" x1="0" y1="0" x2="1" y2="1"><stop offset="0" stop-color="#E8803A"/><stop offset="0.6" stop-color="#D46C2A"/><stop offset="1" stop-color="#B0541E"/></linearGradient>
<filter id="blur3" x="-50%" y="-50%" width="200%" height="200%"><feGaussianBlur stdDeviation="3"/></filter>
<filter id="blur2" x="-50%" y="-50%" width="200%" height="200%"><feGaussianBlur stdDeviation="2"/></filter>
</defs>
<polygon points="132.4,279.3 152.5,295.5 158,297 159.8,306 155.6,310.8 152.5,304.5 131.9,287.5" fill="url(#gY)"/>
<text x="173.3" y="246.9" font-size="16.9" fill="#000" >First cycle of optical pulse</text>
<text x="133" y="243.3" font-size="16" fill="#000" >U</text>
<text x="46.5" y="275.8" font-size="16" fill="#000" >V</text>
<text x="112.2" y="297.8" font-size="17" fill="#000" >Copy&#215;10</text>
<text x="387.5" y="342.5" font-size="28.5" fill="#E11F1F" >Prediction</text>
<polygon points="93.50,408.30 114.97,420.52 113.24,423.56 123.90,421.00 120.66,410.52 118.93,413.57 93.50,399.10" fill="url(#gYh)"/>
<polygon points="79.40,451.81 110.82,446.52 111.44,450.22 118.00,441.00 108.78,434.44 109.41,438.14 79.40,443.19" fill="url(#gYh)"/>
<ellipse cx="172" cy="450" rx="53" ry="24" transform="rotate(7.8 172 450)" fill="#444" opacity="0.5" filter="url(#blur2)"/>
<ellipse cx="175.4" cy="444.4" rx="53.9" ry="25.2" transform="rotate(7.8 175.4 444.4)" fill="url(#gLSTM)"/>
<text x="0" y="5" font-size="15" fill="#fff" text-anchor="middle" transform="translate(176 434.5) skewY(8) scale(0.92 1)">Bi_LSTM</text>
<text x="0" y="5" font-size="15" fill="#fff" text-anchor="middle" transform="translate(175.5 455) skewY(8) scale(0.92 1)">layer</text>
<polygon points="240.20,446.55 269.52,450.94 268.93,454.89 278.30,447.70 271.45,438.08 270.86,442.04 240.20,437.45" fill="url(#gYh)"/>
<polygon points="392.30,449.04 421.08,452.88 420.55,456.84 429.80,449.50 422.80,439.99 422.27,443.96 392.30,439.96" fill="url(#gYh)"/>
<polygon points="536.20,454.53 562.34,457.53 561.88,461.51 571.00,454.00 563.82,444.62 563.37,448.59 536.20,445.47" fill="url(#gYh)"/>
<ellipse cx="291" cy="455" rx="11" ry="3.5" transform="rotate(30 291 455)" fill="#444" opacity="0.45" filter="url(#blur2)"/>
<path d="M297,421.4 L375.6,432 Q379.6,432.5 379.6,436.5 L379.6,464.4 Q379.6,468.4 375.6,467.9 L297,457.3 Q293,456.8 293,452.8 L293,425.4 Q293,420.9 297,421.4 Z" fill="url(#gAtt)"/>
<text x="0" y="5.5" font-size="16.8" fill="#fff" text-anchor="middle" transform="translate(336.3 444.6) skewY(7.6)">attention</text>
<ellipse cx="441" cy="463" rx="11" ry="3.5" transform="rotate(30 441 463)" fill="#444" opacity="0.45" filter="url(#blur2)"/>
<path d="M446.9,415.5 L521.7,426.2 L521.7,476.8 L446.9,466 Z" fill="url(#gDense)"/>
<text x="0" y="5.5" font-size="16.7" fill="#fff" text-anchor="middle" transform="translate(484.3 436) skewY(8.1)">Dense</text>
<text x="0" y="5.5" font-size="16.7" fill="#fff" text-anchor="middle" transform="translate(484 457.6) skewY(8.1)">layer</text>
<text x="296.6" y="502" font-size="24" fill="#555555" >Deep learning</text>
<text x="0" y="6" font-size="18" text-anchor="middle" transform="translate(63.2 408) skewY(13) scale(0.94 1)">Input</text>
<text x="113" y="407.6" font-size="17.5" fill="#000" >V</text>
<text x="93" y="436.5" font-size="18" fill="#000" >U</text>
<text x="0" y="6" font-size="17" text-anchor="middle" transform="translate(560.5 411.8) skewY(8)">Output</text>
<text x="546.8" y="444.3" font-size="17.5" fill="#000" >U</text>
<path d="M266.5,479.5 C263,501 241,516 212,516 C190,515.5 175,503 169.5,488.5 L177.5,488.5 C183,501 196,510.8 212,511.2 C236,510.8 252,498 255.5,479.5 Z" fill="url(#gYsmall)"/>
<polygon points="162.4,488.6 170,479.5 179.2,488.6" fill="#F6C400"/>
<path d="M559,468.5 C552,500 460,525 300,529.8 C210,531 140,512 103,481 L95,481.2 C125,509 200,527.5 300,527.8 C440,525 530,500 549,468.5 Z" fill="url(#gYbig)"/>
<polygon points="86.4,480.8 93.4,468.4 106,481.6" fill="#F6C400"/>
<text x="547.8" y="469" font-size="17" fill="#000" >V</text>
<defs>
<linearGradient id="gHM1" x1="0" y1="0" x2="1" y2="0">
 <stop offset="0" stop-color="#0A16C4"/><stop offset="0.24" stop-color="#0C24D0"/><stop offset="0.265" stop-color="#1448DC"/>
 <stop offset="0.295" stop-color="#2094E4"/><stop offset="0.32" stop-color="#44CCB8"/><stop offset="0.37" stop-color="#50D0A8"/>
 <stop offset="0.39" stop-color="#9CCB8C"/><stop offset="0.58" stop-color="#9CCB8C"/><stop offset="0.6" stop-color="#50D0A8"/>
 <stop offset="0.65" stop-color="#44CCC0"/><stop offset="0.68" stop-color="#2EA0F0"/><stop offset="0.72" stop-color="#1650E0"/>
 <stop offset="0.76" stop-color="#0C24D4"/><stop offset="1" stop-color="#0A16C0"/>
</linearGradient>
<filter id="blurS" x="-50%" y="-50%" width="200%" height="200%"><feGaussianBlur stdDeviation="0.7"/></filter>
<linearGradient id="gHM2" x1="0" y1="0" x2="1" y2="0">
 <stop offset="0" stop-color="#2636E2"/><stop offset="0.16" stop-color="#2A48EA"/><stop offset="0.22" stop-color="#2C78F0"/>
 <stop offset="0.28" stop-color="#3CCCF4"/><stop offset="0.33" stop-color="#8CEED0"/><stop offset="0.38" stop-color="#DCF088"/>
 <stop offset="0.62" stop-color="#DCF088"/><stop offset="0.67" stop-color="#8CEED0"/><stop offset="0.73" stop-color="#3CCCF4"/>
 <stop offset="0.79" stop-color="#2C78F0"/><stop offset="0.84" stop-color="#2A48EA"/><stop offset="1" stop-color="#2636E2"/>
</linearGradient>
<linearGradient id="gPBSarrow" x1="0" y1="0" x2="0" y2="1">
 <stop offset="0" stop-color="#ECCED4"/><stop offset="0.5" stop-color="#E2C0C8"/><stop offset="0.5" stop-color="#C9A2AA"/><stop offset="1" stop-color="#C09AA2"/>
</linearGradient>
<linearGradient id="gPurp" x1="0" y1="0" x2="1" y2="1">
 <stop offset="0" stop-color="#C49AB4"/><stop offset="1" stop-color="#A07890"/>
</linearGradient>
</defs>
<line x1="711.2" y1="284" x2="711.2" y2="296" stroke="#A8C8C0" stroke-width="1.5"/>
<rect x="686.5" y="188" width="49.6" height="96.8" fill="url(#gHM1)"/>
<g filter="url(#blurS)">
<path d="M706,189.5 q2.4,-1.0 4.8,0 q2.4,1.0 4.8,0" fill="none" stroke="#909A58" stroke-width="1.0" opacity="0.65"/>
<path d="M706,192.4 q2.4,-1.0 4.8,0 q2.4,1.0 4.8,0" fill="none" stroke="#909A58" stroke-width="1.0" opacity="0.65"/>
<path d="M706,195.3 q2.4,-1.0 4.8,0 q2.4,1.0 4.8,0" fill="none" stroke="#909A58" stroke-width="1.0" opacity="0.65"/>
<path d="M706,198.2 q2.4,-1.0 4.8,0 q2.4,1.0 4.8,0" fill="none" stroke="#909A58" stroke-width="1.0" opacity="0.65"/>
<path d="M706,201.1 q2.4,-1.0 4.8,0 q2.4,1.0 4.8,0" fill="none" stroke="#909A58" stroke-width="1.0" opacity="0.65"/>
<path d="M706,204.0 q2.4,-1.0 4.8,0 q2.4,1.0 4.8,0" fill="none" stroke="#909A58" stroke-width="1.0" opacity="0.65"/>
<path d="M706,206.9 q2.4,-1.0 4.8,0 q2.4,1.0 4.8,0" fill="none" stroke="#909A58" stroke-width="1.0" opacity="0.65"/>
<path d="M706,209.8 q2.4,-1.0 4.8,0 q2.4,1.0 4.8,0" fill="none" stroke="#909A58" stroke-width="1.0" opacity="0.65"/>
<path d="M706,212.7 q2.4,-1.0 4.8,0 q2.4,1.0 4.8,0" fill="none" stroke="#909A58" stroke-width="1.0" opacity="0.65"/>
<path d="M706,215.6 q2.4,-1.0 4.8,0 q2.4,1.0 4.8,0" fill="none" stroke="#909A58" stroke-width="1.0" opacity="0.65"/>
<path d="M706,218.5 q2.4,-1.0 4.8,0 q2.4,1.0 4.8,0" fill="none" stroke="#909A58" stroke-width="1.0" opacity="0.65"/>
<path d="M706,221.4 q2.4,-1.0 4.8,0 q2.4,1.0 4.8,0" fill="none" stroke="#909A58" stroke-width="1.0" opacity="0.65"/>
<path d="M706,224.3 q2.4,-1.0 4.8,0 q2.4,1.0 4.8,0" fill="none" stroke="#909A58" stroke-width="1.0" opacity="0.65"/>
<path d="M706,227.2 q2.4,-1.0 4.8,0 q2.4,1.0 4.8,0" fill="none" stroke="#909A58" stroke-width="1.0" opacity="0.65"/>
<path d="M706,230.1 q2.4,-1.0 4.8,0 q2.4,1.0 4.8,0" fill="none" stroke="#909A58" stroke-width="1.0" opacity="0.65"/>
<path d="M706,233.0 q2.4,-1.0 4.8,0 q2.4,1.0 4.8,0" fill="none" stroke="#909A58" stroke-width="1.0" opacity="0.65"/>
<path d="M706,235.9 q2.4,-1.0 4.8,0 q2.4,1.0 4.8,0" fill="none" stroke="#909A58" stroke-width="1.0" opacity="0.65"/>
<path d="M706,238.8 q2.4,-1.0 4.8,0 q2.4,1.0 4.8,0" fill="none" stroke="#909A58" stroke-width="1.0" opacity="0.65"/>
<path d="M706,241.7 q2.4,-1.0 4.8,0 q2.4,1.0 4.8,0" fill="none" stroke="#909A58" stroke-width="1.0" opacity="0.65"/>
<path d="M706,244.6 q2.4,-1.0 4.8,0 q2.4,1.0 4.8,0" fill="none" stroke="#909A58" stroke-width="1.0" opacity="0.65"/>
<path d="M706,247.5 q2.4,-1.0 4.8,0 q2.4,1.0 4.8,0" fill="none" stroke="#909A58" stroke-width="1.0" opacity="0.65"/>
<path d="M706,250.4 q2.4,-1.0 4.8,0 q2.4,1.0 4.8,0" fill="none" stroke="#909A58" stroke-width="1.0" opacity="0.65"/>
<path d="M706,253.3 q2.4,-1.0 4.8,0 q2.4,1.0 4.8,0" fill="none" stroke="#909A58" stroke-width="1.0" opacity="0.65"/>
<path d="M706,256.2 q2.4,-1.0 4.8,0 q2.4,1.0 4.8,0" fill="none" stroke="#909A58" stroke-width="1.0" opacity="0.65"/>
<path d="M706,259.1 q2.4,-1.0 4.8,0 q2.4,1.0 4.8,0" fill="none" stroke="#909A58" stroke-width="1.0" opacity="0.65"/>
<path d="M706,262.0 q2.4,-1.0 4.8,0 q2.4,1.0 4.8,0" fill="none" stroke="#909A58" stroke-width="1.0" opacity="0.65"/>
<path d="M706,264.9 q2.4,-1.0 4.8,0 q2.4,1.0 4.8,0" fill="none" stroke="#909A58" stroke-width="1.0" opacity="0.65"/>
<path d="M706,267.8 q2.4,-1.0 4.8,0 q2.4,1.0 4.8,0" fill="none" stroke="#909A58" stroke-width="1.0" opacity="0.65"/>
<path d="M706,270.7 q2.4,-1.0 4.8,0 q2.4,1.0 4.8,0" fill="none" stroke="#909A58" stroke-width="1.0" opacity="0.65"/>
<path d="M706,273.6 q2.4,-1.0 4.8,0 q2.4,1.0 4.8,0" fill="none" stroke="#909A58" stroke-width="1.0" opacity="0.65"/>
<path d="M706,276.5 q2.4,-1.0 4.8,0 q2.4,1.0 4.8,0" fill="none" stroke="#909A58" stroke-width="1.0" opacity="0.65"/>
<path d="M706,279.4 q2.4,-1.0 4.8,0 q2.4,1.0 4.8,0" fill="none" stroke="#909A58" stroke-width="1.0" opacity="0.65"/>
<path d="M706,282.3 q2.4,-1.0 4.8,0 q2.4,1.0 4.8,0" fill="none" stroke="#909A58" stroke-width="1.0" opacity="0.65"/>
</g>
<rect x="706" y="294.7" width="7" height="5" fill="#111A14"/>
<rect x="703.4" y="298.8" width="13" height="40.5" fill="#111A14"/>
<rect x="703.4" y="309.3" width="1.6" height="3" fill="#E8EEE8"/><rect x="714.8" y="309.3" width="1.6" height="3" fill="#E8EEE8"/>
<rect x="707.5" y="305.3" width="5" height="1" fill="#3A463E"/>
<rect x="703.4" y="321.2" width="1.6" height="3" fill="#E8EEE8"/><rect x="714.8" y="321.2" width="1.6" height="3" fill="#E8EEE8"/>
<rect x="707.5" y="317.2" width="5" height="1" fill="#3A463E"/>
<rect x="703.4" y="333.1" width="1.6" height="3" fill="#E8EEE8"/><rect x="714.8" y="333.1" width="1.6" height="3" fill="#E8EEE8"/>
<rect x="707.5" y="329.1" width="5" height="1" fill="#3A463E"/>
<rect x="703.4" y="339.3" width="13" height="7" fill="#5E6E66"/>
<rect x="685.6" y="338.9" width="39.2" height="55.5" fill="#D2DAD2" opacity="0.95"/>
<rect x="703.4" y="339.3" width="13" height="7" fill="#647870"/>
<rect x="685.6" y="361.8" width="39.2" height="1.6" fill="#8EC0D8"/>
<rect x="685.6" y="363.3" width="39.2" height="7" fill="#55675F"/>
<line x1="711.2" y1="346" x2="711.2" y2="394" stroke="#B0C8C2" stroke-width="1.3"/>
<path d="M711.2,394 L711.2,408 C711,424 698,432 671.3,433.3" fill="none" stroke="#A8CCC4" stroke-width="1.6"/>
<rect x="667" y="364" width="16.2" height="3" fill="#C8141C"/>
<polygon points="660.7,365.5 669,360.8 669,370.2" fill="#C8141C"/>
<rect x="704.3" y="397.5" width="3" height="12" fill="#C8141C"/>
<polygon points="705.8,417.2 701.2,409 710.4,409" fill="#C8141C"/>
<text x="666.2" y="322.2" font-size="17" fill="#000" >PC 2</text>
<text x="668.3" y="359.5" font-size="15.5" fill="#000" >V</text>
<text x="739" y="382.5" font-size="16.5" fill="#000" >PBS</text>
<text x="689.6" y="413.6" font-size="17" fill="#000" >U</text>
<rect x="593.9" y="384.3" width="49.4" height="92.1" fill="url(#gHM2)"/>
<ellipse cx="618.3" cy="388.5" rx="4.4" ry="2.1" fill="#E08068" opacity="0.75" filter="url(#blurS)"/>
<ellipse cx="618.3" cy="400.3" rx="4.4" ry="2.1" fill="#E08068" opacity="0.75" filter="url(#blurS)"/>
<ellipse cx="618.3" cy="412.1" rx="4.4" ry="2.1" fill="#E08068" opacity="0.75" filter="url(#blurS)"/>
<ellipse cx="618.3" cy="423.9" rx="4.4" ry="2.1" fill="#E08068" opacity="0.75" filter="url(#blurS)"/>
<ellipse cx="618.3" cy="435.7" rx="4.4" ry="2.1" fill="#E08068" opacity="0.75" filter="url(#blurS)"/>
<ellipse cx="618.3" cy="447.5" rx="4.4" ry="2.1" fill="#E08068" opacity="0.75" filter="url(#blurS)"/>
<ellipse cx="618.3" cy="459.3" rx="4.4" ry="2.1" fill="#E08068" opacity="0.75" filter="url(#blurS)"/>
<ellipse cx="618.3" cy="471.1" rx="4.4" ry="2.1" fill="#E08068" opacity="0.75" filter="url(#blurS)"/>
<polygon points="645.7,433.4 671.3,423.4 671.3,433.4" fill="#EACCD2"/>
<polygon points="645.7,433.4 671.3,433.4 671.3,441.6" fill="#C8A0A8"/>
<text x="559.6" y="495.2" font-size="19.4" fill="#000" >Comparison (U)</text>
<polygon points="643.1,498.3 699.5,536.5 700,531 706.8,551.7 698.5,561.8 699,554.5 642.1,513.7" fill="url(#gPurp)"/>
<defs>
<linearGradient id="gTan" x1="0" y1="0" x2="1" y2="0">
 <stop offset="0" stop-color="#ECE0CE"/><stop offset="0.62" stop-color="#DCCCB6"/><stop offset="0.68" stop-color="#6A6058"/><stop offset="1" stop-color="#5A524C"/>
</linearGradient>
<linearGradient id="gPinkBar" x1="0" y1="0" x2="1" y2="0">
 <stop offset="0" stop-color="#E890C0"/><stop offset="0.5" stop-color="#D47CAA"/><stop offset="0.55" stop-color="#7A4A68"/><stop offset="1" stop-color="#6A3E5A"/>
</linearGradient>
<linearGradient id="gTanThin" x1="0" y1="0" x2="1" y2="0">
 <stop offset="0" stop-color="#E8DCC8"/><stop offset="0.45" stop-color="#D0C0AC"/><stop offset="0.5" stop-color="#7A7068"/><stop offset="1" stop-color="#6A625C"/>
</linearGradient>
<linearGradient id="gPinkThin" x1="0" y1="0" x2="1" y2="0">
 <stop offset="0" stop-color="#E294BE"/><stop offset="0.4" stop-color="#C47AA0"/><stop offset="0.5" stop-color="#7E5070"/><stop offset="1" stop-color="#6E4462"/>
</linearGradient>
<pattern id="pSalmon" x="0" y="0" width="3" height="10" patternUnits="userSpaceOnUse">
 <rect x="0" y="0" width="3" height="10" fill="#D88684"/><rect x="1.8" y="0" width="1.2" height="10" fill="#B46468"/>
</pattern>
<linearGradient id="gArrowIP" x1="0" y1="0" x2="0" y2="1">
 <stop offset="0" stop-color="#F2CCDC"/><stop offset="0.5" stop-color="#ECC2D4"/><stop offset="0.5" stop-color="#D8A8C0"/><stop offset="1" stop-color="#D0A0B8"/>
</linearGradient>
</defs>
<text x="438" y="561.1" font-size="29.2" fill="#7030A0" >Information coding</text>
<text x="215.2" y="568" font-size="19.4" fill="#000" >Processed data</text>
<rect x="140.8" y="621.6" width="301" height="9.6" fill="url(#pSalmon)"/>
<rect x="140.8" y="621.6" width="301" height="2.2" fill="#E89A98" opacity="0.8"/>
<rect x="145.80" y="585.4" width="3.2" height="45.7" fill="url(#gPinkThin)"/>
<circle cx="147.40" cy="585.8" r="1.4" fill="#F0B0D0"/>
<rect x="154.17" y="585.4" width="3.2" height="45.7" fill="url(#gTanThin)"/>
<circle cx="155.77" cy="585.8" r="1.4" fill="#F4E8D8"/>
<rect x="162.54" y="585.4" width="3.2" height="45.7" fill="url(#gTanThin)"/>
<circle cx="164.14" cy="585.8" r="1.4" fill="#F4E8D8"/>
<rect x="170.91" y="585.4" width="3.2" height="45.7" fill="url(#gTanThin)"/>
<circle cx="172.51" cy="585.8" r="1.4" fill="#F4E8D8"/>
<rect x="179.28" y="585.4" width="3.2" height="45.7" fill="url(#gPinkThin)"/>
<circle cx="180.88" cy="585.8" r="1.4" fill="#F0B0D0"/>
<rect x="196.10" y="585.4" width="3.2" height="45.7" fill="url(#gPinkThin)"/>
<circle cx="197.70" cy="585.8" r="1.4" fill="#F0B0D0"/>
<rect x="204.47" y="585.4" width="3.2" height="45.7" fill="url(#gTanThin)"/>
<circle cx="206.07" cy="585.8" r="1.4" fill="#F4E8D8"/>
<rect x="212.84" y="585.4" width="3.2" height="45.7" fill="url(#gTanThin)"/>
<circle cx="214.44" cy="585.8" r="1.4" fill="#F4E8D8"/>
<rect x="221.21" y="585.4" width="3.2" height="45.7" fill="url(#gTanThin)"/>
<circle cx="222.81" cy="585.8" r="1.4" fill="#F4E8D8"/>
<rect x="229.58" y="585.4" width="3.2" height="45.7" fill="url(#gPinkThin)"/>
<circle cx="231.18" cy="585.8" r="1.4" fill="#F0B0D0"/>
<rect x="246.40" y="585.4" width="3.2" height="45.7" fill="url(#gPinkThin)"/>
<circle cx="248.00" cy="585.8" r="1.4" fill="#F0B0D0"/>
<rect x="254.77" y="585.4" width="3.2" height="45.7" fill="url(#gTanThin)"/>
<circle cx="256.37" cy="585.8" r="1.4" fill="#F4E8D8"/>
<rect x="263.14" y="585.4" width="3.2" height="45.7" fill="url(#gTanThin)"/>
<circle cx="264.74" cy="585.8" r="1.4" fill="#F4E8D8"/>
<rect x="271.51" y="585.4" width="3.2" height="45.7" fill="url(#gTanThin)"/>
<circle cx="273.11" cy="585.8" r="1.4" fill="#F4E8D8"/>
<rect x="279.88" y="585.4" width="3.2" height="45.7" fill="url(#gPinkThin)"/>
<circle cx="281.48" cy="585.8" r="1.4" fill="#F0B0D0"/>
<rect x="296.70" y="585.4" width="3.2" height="45.7" fill="url(#gPinkThin)"/>
<circle cx="298.30" cy="585.8" r="1.4" fill="#F0B0D0"/>
<rect x="305.07" y="585.4" width="3.2" height="45.7" fill="url(#gTanThin)"/>
<circle cx="306.67" cy="585.8" r="1.4" fill="#F4E8D8"/>
<rect x="313.44" y="585.4" width="3.2" height="45.7" fill="url(#gTanThin)"/>
<circle cx="315.04" cy="585.8" r="1.4" fill="#F4E8D8"/>
<rect x="321.81" y="585.4" width="3.2" height="45.7" fill="url(#gTanThin)"/>
<circle cx="323.41" cy="585.8" r="1.4" fill="#F4E8D8"/>
<rect x="330.18" y="585.4" width="3.2" height="45.7" fill="url(#gPinkThin)"/>
<circle cx="331.78" cy="585.8" r="1.4" fill="#F0B0D0"/>
<rect x="347.00" y="585.4" width="3.2" height="45.7" fill="url(#gPinkThin)"/>
<circle cx="348.60" cy="585.8" r="1.4" fill="#F0B0D0"/>
<rect x="355.37" y="585.4" width="3.2" height="45.7" fill="url(#gTanThin)"/>
<circle cx="356.97" cy="585.8" r="1.4" fill="#F4E8D8"/>
<rect x="363.74" y="585.4" width="3.2" height="45.7" fill="url(#gTanThin)"/>
<circle cx="365.34" cy="585.8" r="1.4" fill="#F4E8D8"/>
<rect x="372.11" y="585.4" width="3.2" height="45.7" fill="url(#gTanThin)"/>
<circle cx="373.71" cy="585.8" r="1.4" fill="#F4E8D8"/>
<rect x="380.48" y="585.4" width="3.2" height="45.7" fill="url(#gPinkThin)"/>
<circle cx="382.08" cy="585.8" r="1.4" fill="#F0B0D0"/>
<rect x="397.30" y="585.4" width="3.2" height="45.7" fill="url(#gPinkThin)"/>
<circle cx="398.90" cy="585.8" r="1.4" fill="#F0B0D0"/>
<rect x="405.67" y="585.4" width="3.2" height="45.7" fill="url(#gTanThin)"/>
<circle cx="407.27" cy="585.8" r="1.4" fill="#F4E8D8"/>
<rect x="414.04" y="585.4" width="3.2" height="45.7" fill="url(#gTanThin)"/>
<circle cx="415.64" cy="585.8" r="1.4" fill="#F4E8D8"/>
<rect x="422.41" y="585.4" width="3.2" height="45.7" fill="url(#gTanThin)"/>
<circle cx="424.01" cy="585.8" r="1.4" fill="#F4E8D8"/>
<rect x="430.78" y="585.4" width="3.2" height="45.7" fill="url(#gPinkThin)"/>
<circle cx="432.38" cy="585.8" r="1.4" fill="#F0B0D0"/>
<rect x="345.1" y="582.1" width="53.5" height="52.6" fill="none" stroke="#1A2248" stroke-width="2" stroke-dasharray="2,1.6"/>
<text transform="translate(168.10 652.5) scale(0.86 1)" x="0" y="0" font-size="27.8" style="font-weight:normal" fill="#4A5A62" text-anchor="middle">1</text>
<text transform="translate(167.00 652) scale(0.86 1)" x="0" y="0" font-size="27.8" style="font-weight:normal" fill="#C0E3EA" stroke="#A6D2DA" stroke-width="0.4" text-anchor="middle">1</text>
<text transform="translate(183.66 652.5) scale(0.86 1)" x="0" y="0" font-size="27.8" style="font-weight:normal" fill="#4A5A62" text-anchor="middle">0</text>
<text transform="translate(182.56 652) scale(0.86 1)" x="0" y="0" font-size="27.8" style="font-weight:normal" fill="#C0E3EA" stroke="#A6D2DA" stroke-width="0.4" text-anchor="middle">0</text>
<text transform="translate(199.22 652.5) scale(0.86 1)" x="0" y="0" font-size="27.8" style="font-weight:normal" fill="#4A5A62" text-anchor="middle">0</text>
<text transform="translate(198.12 652) scale(0.86 1)" x="0" y="0" font-size="27.8" style="font-weight:normal" fill="#C0E3EA" stroke="#A6D2DA" stroke-width="0.4" text-anchor="middle">0</text>
<text transform="translate(214.78 652.5) scale(0.86 1)" x="0" y="0" font-size="27.8" style="font-weight:normal" fill="#4A5A62" text-anchor="middle">1</text>
<text transform="translate(213.68 652) scale(0.86 1)" x="0" y="0" font-size="27.8" style="font-weight:normal" fill="#C0E3EA" stroke="#A6D2DA" stroke-width="0.4" text-anchor="middle">1</text>
<text transform="translate(230.34 652.5) scale(0.86 1)" x="0" y="0" font-size="27.8" style="font-weight:normal" fill="#4A5A62" text-anchor="middle">0</text>
<text transform="translate(229.24 652) scale(0.86 1)" x="0" y="0" font-size="27.8" style="font-weight:normal" fill="#C0E3EA" stroke="#A6D2DA" stroke-width="0.4" text-anchor="middle">0</text>
<text transform="translate(245.90 652.5) scale(0.86 1)" x="0" y="0" font-size="27.8" style="font-weight:normal" fill="#4A5A62" text-anchor="middle">0</text>
<text transform="translate(244.80 652) scale(0.86 1)" x="0" y="0" font-size="27.8" style="font-weight:normal" fill="#C0E3EA" stroke="#A6D2DA" stroke-width="0.4" text-anchor="middle">0</text>
<text transform="translate(261.46 652.5) scale(0.86 1)" x="0" y="0" font-size="27.8" style="font-weight:normal" fill="#4A5A62" text-anchor="middle">1</text>
<text transform="translate(260.36 652) scale(0.86 1)" x="0" y="0" font-size="27.8" style="font-weight:normal" fill="#C0E3EA" stroke="#A6D2DA" stroke-width="0.4" text-anchor="middle">1</text>
<text transform="translate(277.02 652.5) scale(0.86 1)" x="0" y="0" font-size="27.8" style="font-weight:normal" fill="#4A5A62" text-anchor="middle">0</text>
<text transform="translate(275.92 652) scale(0.86 1)" x="0" y="0" font-size="27.8" style="font-weight:normal" fill="#C0E3EA" stroke="#A6D2DA" stroke-width="0.4" text-anchor="middle">0</text>
<text transform="translate(292.58 652.5) scale(0.86 1)" x="0" y="0" font-size="27.8" style="font-weight:normal" fill="#4A5A62" text-anchor="middle">0</text>
<text transform="translate(291.48 652) scale(0.86 1)" x="0" y="0" font-size="27.8" style="font-weight:normal" fill="#C0E3EA" stroke="#A6D2DA" stroke-width="0.4" text-anchor="middle">0</text>
<text transform="translate(308.14 652.5) scale(0.86 1)" x="0" y="0" font-size="27.8" style="font-weight:normal" fill="#4A5A62" text-anchor="middle">1</text>
<text transform="translate(307.04 652) scale(0.86 1)" x="0" y="0" font-size="27.8" style="font-weight:normal" fill="#C0E3EA" stroke="#A6D2DA" stroke-width="0.4" text-anchor="middle">1</text>
<text transform="translate(323.70 652.5) scale(0.86 1)" x="0" y="0" font-size="27.8" style="font-weight:normal" fill="#4A5A62" text-anchor="middle">0</text>
<text transform="translate(322.60 652) scale(0.86 1)" x="0" y="0" font-size="27.8" style="font-weight:normal" fill="#C0E3EA" stroke="#A6D2DA" stroke-width="0.4" text-anchor="middle">0</text>
<text transform="translate(339.26 652.5) scale(0.86 1)" x="0" y="0" font-size="27.8" style="font-weight:normal" fill="#4A5A62" text-anchor="middle">0</text>
<text transform="translate(338.16 652) scale(0.86 1)" x="0" y="0" font-size="27.8" style="font-weight:normal" fill="#C0E3EA" stroke="#A6D2DA" stroke-width="0.4" text-anchor="middle">0</text>
<text transform="translate(354.82 652.5) scale(0.86 1)" x="0" y="0" font-size="27.8" style="font-weight:normal" fill="#4A5A62" text-anchor="middle">1</text>
<text transform="translate(353.72 652) scale(0.86 1)" x="0" y="0" font-size="27.8" style="font-weight:normal" fill="#C0E3EA" stroke="#A6D2DA" stroke-width="0.4" text-anchor="middle">1</text>
<text transform="translate(370.38 652.5) scale(0.86 1)" x="0" y="0" font-size="27.8" style="font-weight:normal" fill="#4A5A62" text-anchor="middle">0</text>
<text transform="translate(369.28 652) scale(0.86 1)" x="0" y="0" font-size="27.8" style="font-weight:normal" fill="#C0E3EA" stroke="#A6D2DA" stroke-width="0.4" text-anchor="middle">0</text>
<text transform="translate(385.94 652.5) scale(0.86 1)" x="0" y="0" font-size="27.8" style="font-weight:normal" fill="#4A5A62" text-anchor="middle">0</text>
<text transform="translate(384.84 652) scale(0.86 1)" x="0" y="0" font-size="27.8" style="font-weight:normal" fill="#C0E3EA" stroke="#A6D2DA" stroke-width="0.4" text-anchor="middle">0</text>
<text transform="translate(401.50 652.5) scale(0.86 1)" x="0" y="0" font-size="27.8" style="font-weight:normal" fill="#4A5A62" text-anchor="middle">0</text>
<text transform="translate(400.40 652) scale(0.86 1)" x="0" y="0" font-size="27.8" style="font-weight:normal" fill="#C0E3EA" stroke="#A6D2DA" stroke-width="0.4" text-anchor="middle">0</text>
<text transform="translate(417.06 652.5) scale(0.86 1)" x="0" y="0" font-size="27.8" style="font-weight:normal" fill="#4A5A62" text-anchor="middle">0</text>
<text transform="translate(415.96 652) scale(0.86 1)" x="0" y="0" font-size="27.8" style="font-weight:normal" fill="#C0E3EA" stroke="#A6D2DA" stroke-width="0.4" text-anchor="middle">0</text>
<rect x="501" y="596" width="31.5" height="16.8" fill="url(#gArrowIP)"/>
<rect x="501" y="596" width="31.5" height="4.3" fill="#F2CCDC"/>
<rect x="501" y="600.3" width="31.5" height="12.5" fill="#CC9CB6"/>
<polygon points="481.8,604.5 501,589.8 501,604.5" fill="#F0C8D8"/>
<polygon points="481.8,604.5 501,604.5 501,620" fill="#D8A6C0"/>
<text x="459.4" y="631.2" font-size="19.2" fill="#000" >Information</text>
<text x="466.3" y="654.6" font-size="19.5" fill="#000" >processing</text>
<polygon points="587.30,629.00 587.30,596.00 589.50,593.30 592.60,593.30 597.10,593.30 597.10,601.50 598.40,601.50 598.40,614.20 615.80,614.20 615.80,601.50 617.10,601.50 617.10,593.30 621.60,593.30 628.70,593.30 633.20,593.30 633.20,601.50 634.50,601.50 634.50,614.20 651.90,614.20 651.90,601.50 653.20,601.50 653.20,593.30 657.70,593.30 664.80,593.30 669.30,593.30 669.30,601.50 670.60,601.50 670.60,614.20 688.00,614.20 688.00,601.50 689.30,601.50 689.30,593.30 693.80,593.30 700.90,593.30 705.40,593.30 705.40,601.50 706.70,601.50 706.70,614.20 724.10,614.20 724.10,601.50 725.40,601.50 725.40,593.30 729.90,593.30 737.00,593.30 741.50,593.30 741.50,601.50 742.80,601.50 742.80,614.20 760.20,614.20 760.20,601.50 761.50,601.50 761.50,593.30 766.00,593.30 773.10,593.30 777.60,593.30 777.60,601.50 778.90,601.50 778.90,614.20 796.30,614.20 796.30,601.50 797.60,601.50 797.60,593.30 802.10,593.30 806.50,593.30 808.60,596.00 808.60,629.00" fill="url(#pSalmon)"/>
<rect x="622.60" y="595" width="1.3" height="4" fill="#8E4E58" opacity="0.8"/>
<rect x="625.60" y="595" width="1.3" height="4" fill="#8E4E58" opacity="0.8"/>
<rect x="628.60" y="595" width="1.3" height="4" fill="#8E4E58" opacity="0.8"/>
<rect x="658.70" y="595" width="1.3" height="4" fill="#8E4E58" opacity="0.8"/>
<rect x="661.70" y="595" width="1.3" height="4" fill="#8E4E58" opacity="0.8"/>
<rect x="664.70" y="595" width="1.3" height="4" fill="#8E4E58" opacity="0.8"/>
<rect x="694.80" y="595" width="1.3" height="4" fill="#8E4E58" opacity="0.8"/>
<rect x="697.80" y="595" width="1.3" height="4" fill="#8E4E58" opacity="0.8"/>
<rect x="700.80" y="595" width="1.3" height="4" fill="#8E4E58" opacity="0.8"/>
<rect x="730.90" y="595" width="1.3" height="4" fill="#8E4E58" opacity="0.8"/>
<rect x="733.90" y="595" width="1.3" height="4" fill="#8E4E58" opacity="0.8"/>
<rect x="736.90" y="595" width="1.3" height="4" fill="#8E4E58" opacity="0.8"/>
<rect x="767.00" y="595" width="1.3" height="4" fill="#8E4E58" opacity="0.8"/>
<rect x="770.00" y="595" width="1.3" height="4" fill="#8E4E58" opacity="0.8"/>
<rect x="773.00" y="595" width="1.3" height="4" fill="#8E4E58" opacity="0.8"/>
<rect x="803.10" y="595" width="1.3" height="4" fill="#8E4E58" opacity="0.8"/>
<rect x="592.60" y="586.1" width="4.6" height="15.4" fill="url(#gPinkBar)"/>
<rect x="593.10" y="601.5" width="1.6" height="27.5" fill="#D890B0" opacity="0.7"/>
<ellipse cx="594.90" cy="586.7" rx="2.3" ry="1.5" fill="#EEA6CE"/>
<rect x="617.00" y="586.1" width="4.6" height="15.4" fill="url(#gPinkBar)"/>
<rect x="617.50" y="601.5" width="1.6" height="27.5" fill="#D890B0" opacity="0.7"/>
<ellipse cx="619.30" cy="586.7" rx="2.3" ry="1.5" fill="#EEA6CE"/>
<rect x="598.50" y="576.1" width="5" height="38.1" fill="url(#gTan)"/>
<rect x="599.00" y="614.2" width="1.6" height="14.8" fill="#DCC6B4"/>
<ellipse cx="601.00" cy="576.7" rx="2.5" ry="1.6" fill="#F0E4D4"/>
<rect x="610.70" y="576.1" width="5" height="38.1" fill="url(#gTan)"/>
<rect x="611.20" y="614.2" width="1.6" height="14.8" fill="#DCC6B4"/>
<ellipse cx="613.20" cy="576.7" rx="2.5" ry="1.6" fill="#F0E4D4"/>
<rect x="604.60" y="565.6" width="5" height="48.6" fill="url(#gTan)"/>
<rect x="605.10" y="614.2" width="1.6" height="14.8" fill="#DCC6B4"/>
<ellipse cx="607.10" cy="566.2" rx="2.5" ry="1.6" fill="#F0E4D4"/>
<rect x="628.70" y="586.1" width="4.6" height="15.4" fill="url(#gPinkBar)"/>
<rect x="629.20" y="601.5" width="1.6" height="27.5" fill="#D890B0" opacity="0.7"/>
<ellipse cx="631.00" cy="586.7" rx="2.3" ry="1.5" fill="#EEA6CE"/>
<rect x="653.10" y="586.1" width="4.6" height="15.4" fill="url(#gPinkBar)"/>
<rect x="653.60" y="601.5" width="1.6" height="27.5" fill="#D890B0" opacity="0.7"/>
<ellipse cx="655.40" cy="586.7" rx="2.3" ry="1.5" fill="#EEA6CE"/>
<rect x="634.60" y="576.1" width="5" height="38.1" fill="url(#gTan)"/>
<rect x="635.10" y="614.2" width="1.6" height="14.8" fill="#DCC6B4"/>
<ellipse cx="637.10" cy="576.7" rx="2.5" ry="1.6" fill="#F0E4D4"/>
<rect x="646.80" y="576.1" width="5" height="38.1" fill="url(#gTan)"/>
<rect x="647.30" y="614.2" width="1.6" height="14.8" fill="#DCC6B4"/>
<ellipse cx="649.30" cy="576.7" rx="2.5" ry="1.6" fill="#F0E4D4"/>
<rect x="640.70" y="565.6" width="5" height="48.6" fill="url(#gTan)"/>
<rect x="641.20" y="614.2" width="1.6" height="14.8" fill="#DCC6B4"/>
<ellipse cx="643.20" cy="566.2" rx="2.5" ry="1.6" fill="#F0E4D4"/>
<rect x="664.80" y="586.1" width="4.6" height="15.4" fill="url(#gPinkBar)"/>
<rect x="665.30" y="601.5" width="1.6" height="27.5" fill="#D890B0" opacity="0.7"/>
<ellipse cx="667.10" cy="586.7" rx="2.3" ry="1.5" fill="#EEA6CE"/>
<rect x="689.20" y="586.1" width="4.6" height="15.4" fill="url(#gPinkBar)"/>
<rect x="689.70" y="601.5" width="1.6" height="27.5" fill="#D890B0" opacity="0.7"/>
<ellipse cx="691.50" cy="586.7" rx="2.3" ry="1.5" fill="#EEA6CE"/>
<rect x="670.70" y="576.1" width="5" height="38.1" fill="url(#gTan)"/>
<rect x="671.20" y="614.2" width="1.6" height="14.8" fill="#DCC6B4"/>
<ellipse cx="673.20" cy="576.7" rx="2.5" ry="1.6" fill="#F0E4D4"/>
<rect x="682.90" y="576.1" width="5" height="38.1" fill="url(#gTan)"/>
<rect x="683.40" y="614.2" width="1.6" height="14.8" fill="#DCC6B4"/>
<ellipse cx="685.40" cy="576.7" rx="2.5" ry="1.6" fill="#F0E4D4"/>
<rect x="676.80" y="565.6" width="5" height="48.6" fill="url(#gTan)"/>
<rect x="677.30" y="614.2" width="1.6" height="14.8" fill="#DCC6B4"/>
<ellipse cx="679.30" cy="566.2" rx="2.5" ry="1.6" fill="#F0E4D4"/>
<rect x="700.90" y="586.1" width="4.6" height="15.4" fill="url(#gPinkBar)"/>
<rect x="701.40" y="601.5" width="1.6" height="27.5" fill="#D890B0" opacity="0.7"/>
<ellipse cx="703.20" cy="586.7" rx="2.3" ry="1.5" fill="#EEA6CE"/>
<rect x="725.30" y="586.1" width="4.6" height="15.4" fill="url(#gPinkBar)"/>
<rect x="725.80" y="601.5" width="1.6" height="27.5" fill="#D890B0" opacity="0.7"/>
<ellipse cx="727.60" cy="586.7" rx="2.3" ry="1.5" fill="#EEA6CE"/>
<rect x="706.80" y="576.1" width="5" height="38.1" fill="url(#gTan)"/>
<rect x="707.30" y="614.2" width="1.6" height="14.8" fill="#DCC6B4"/>
<ellipse cx="709.30" cy="576.7" rx="2.5" ry="1.6" fill="#F0E4D4"/>
<rect x="719.00" y="576.1" width="5" height="38.1" fill="url(#gTan)"/>
<rect x="719.50" y="614.2" width="1.6" height="14.8" fill="#DCC6B4"/>
<ellipse cx="721.50" cy="576.7" rx="2.5" ry="1.6" fill="#F0E4D4"/>
<rect x="712.90" y="565.6" width="5" height="48.6" fill="url(#gTan)"/>
<rect x="713.40" y="614.2" width="1.6" height="14.8" fill="#DCC6B4"/>
<ellipse cx="715.40" cy="566.2" rx="2.5" ry="1.6" fill="#F0E4D4"/>
<rect x="737.00" y="586.1" width="4.6" height="15.4" fill="url(#gPinkBar)"/>
<rect x="737.50" y="601.5" width="1.6" height="27.5" fill="#D890B0" opacity="0.7"/>
<ellipse cx="739.30" cy="586.7" rx="2.3" ry="1.5" fill="#EEA6CE"/>
<rect x="761.40" y="586.1" width="4.6" height="15.4" fill="url(#gPinkBar)"/>
<rect x="761.90" y="601.5" width="1.6" height="27.5" fill="#D890B0" opacity="0.7"/>
<ellipse cx="763.70" cy="586.7" rx="2.3" ry="1.5" fill="#EEA6CE"/>
<rect x="742.90" y="576.1" width="5" height="38.1" fill="url(#gTan)"/>
<rect x="743.40" y="614.2" width="1.6" height="14.8" fill="#DCC6B4"/>
<ellipse cx="745.40" cy="576.7" rx="2.5" ry="1.6" fill="#F0E4D4"/>
<rect x="755.10" y="576.1" width="5" height="38.1" fill="url(#gTan)"/>
<rect x="755.60" y="614.2" width="1.6" height="14.8" fill="#DCC6B4"/>
<ellipse cx="757.60" cy="576.7" rx="2.5" ry="1.6" fill="#F0E4D4"/>
<rect x="749.00" y="565.6" width="5" height="48.6" fill="url(#gTan)"/>
<rect x="749.50" y="614.2" width="1.6" height="14.8" fill="#DCC6B4"/>
<ellipse cx="751.50" cy="566.2" rx="2.5" ry="1.6" fill="#F0E4D4"/>
<rect x="773.10" y="586.1" width="4.6" height="15.4" fill="url(#gPinkBar)"/>
<rect x="773.60" y="601.5" width="1.6" height="27.5" fill="#D890B0" opacity="0.7"/>
<ellipse cx="775.40" cy="586.7" rx="2.3" ry="1.5" fill="#EEA6CE"/>
<rect x="797.50" y="586.1" width="4.6" height="15.4" fill="url(#gPinkBar)"/>
<rect x="798.00" y="601.5" width="1.6" height="27.5" fill="#D890B0" opacity="0.7"/>
<ellipse cx="799.80" cy="586.7" rx="2.3" ry="1.5" fill="#EEA6CE"/>
<rect x="779.00" y="576.1" width="5" height="38.1" fill="url(#gTan)"/>
<rect x="779.50" y="614.2" width="1.6" height="14.8" fill="#DCC6B4"/>
<ellipse cx="781.50" cy="576.7" rx="2.5" ry="1.6" fill="#F0E4D4"/>
<rect x="791.20" y="576.1" width="5" height="38.1" fill="url(#gTan)"/>
<rect x="791.70" y="614.2" width="1.6" height="14.8" fill="#DCC6B4"/>
<ellipse cx="793.70" cy="576.7" rx="2.5" ry="1.6" fill="#F0E4D4"/>
<rect x="785.10" y="565.6" width="5" height="48.6" fill="url(#gTan)"/>
<rect x="785.60" y="614.2" width="1.6" height="14.8" fill="#DCC6B4"/>
<ellipse cx="787.60" cy="566.2" rx="2.5" ry="1.6" fill="#F0E4D4"/>
<text x="703.5" y="652.8" font-size="18" fill="#000" >Original data</text>
</svg>
</body></html>
